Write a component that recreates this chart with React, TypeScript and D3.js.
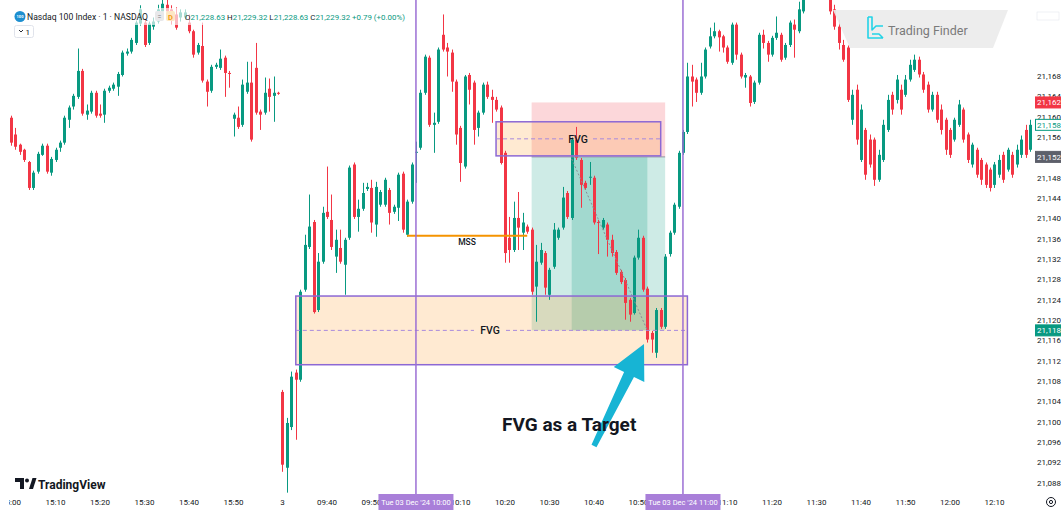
import React from 'react';
import * as d3 from 'd3';

// ---- Candle data (1-minute NASDAQ 100) ----
const opens = [
  21159.8, 21156.5, 21154.5, 21153.5, 21151.1, 21146.0, 21149.2, 21152.5, 21154.3, 21149.0,
  21151.5, 21153.9, 21154.9, 21159.4, 21162.0, 21163.9, 21169.0, 21160.4, 21161.0, 21164.7,
  21160.6, 21160.4, 21165.1, 21165.5, 21165.9, 21168.2, 21172.4, 21172.8, 21174.5, 21178.3,
  21178.5, 21174.5, 21177.7, 21178.7, 21180.7, 21182.0, 21181.1, 21180.1, 21179.5, 21179.5,
  21178.5, 21176.8, 21172.6, 21173.9, 21166.9, 21165.1, 21169.8, 21169.6, 21171.6, 21168.6,
  21159.6, 21159.8, 21158.4, 21164.9, 21166.7, 21169.6, 21161.0, 21160.8, 21165.5, 21164.1,
  21164.7,
  21105.9, 21091.0, 21099.0, 21109.7, 21108.3, 21126.0, 21134.4, 21139.3, 21122.0,
  21131.5, 21141.3, 21139.7, 21132.5, 21134.2, 21130.9, 21136.2, 21150.6, 21140.3, 21141.9,
  21145.8, 21146.0, 21138.8, 21142.7, 21142.7, 21145.6, 21141.3, 21142.1, 21148.8, 21136.8,
  21143.3, 21152.9, 21153.9, 21164.7, 21171.6, 21158.4, 21159.0, 21176.1, 21173.6, 21172.6,
  21166.9, 21157.8, 21150.2, 21168.2, 21166.7, 21157.8, 21160.8, 21166.3, 21163.9, 21163.3,
  21161.8, 21152.9, 21136.2, 21133.8, 21140.1, 21137.2, 21138.4, 21137.8, 21126.6, 21131.3,
  21133.2, 21125.0, 21130.5, 21136.2, 21138.2, 21145.0, 21140.1, 21155.5, 21151.5, 21147.0,
  21148.0, 21148.0, 21139.3, 21138.2, 21138.8, 21135.8, 21133.4, 21129.5, 21127.9, 21124.0,
  21121.4, 21132.3, 21136.2, 21126.2, 21117.5, 21113.6, 21122.0, 21118.7, 21133.0, 21137.2,
  21142.3, 21152.9, 21157.0, 21167.9, 21167.3, 21164.7, 21167.9, 21173.8, 21175.8, 21176.8,
  21175.8, 21173.6, 21170.6, 21178.1, 21172.2, 21167.7, 21167.9, 21162.9, 21166.7, 21176.1,
  21174.5, 21172.2, 21175.5, 21176.1, 21171.6, 21174.1, 21178.1, 21176.8, 21180.7, 21184.0,
  21185.4, 21184.0, 21186.6, 21185.0, 21183.4, 21181.1, 21177.7, 21174.1, 21173.6, 21159.4,
  21165.3, 21151.5, 21157.4, 21155.5, 21155.5, 21147.6, 21151.5, 21157.4, 21164.3, 21163.3,
  21165.3, 21164.3, 21167.3, 21169.2, 21171.2, 21168.3, 21166.3, 21161.4, 21164.3, 21161.4,
  21159.4, 21157.4, 21155.5, 21158.4, 21161.4, 21156.5, 21150.6, 21153.5, 21151.5, 21150.6,
  21149.6, 21146.6, 21148.6, 21152.5, 21149.6, 21152.5, 21150.6, 21152.5, 21157.4, 21153.5,
];
const highs = [
  21160.2, 21157.8, 21154.7, 21153.7, 21151.3, 21149.4, 21153.1, 21154.7, 21154.7, 21152.1,
  21153.9, 21155.3, 21160.2, 21162.2, 21164.5, 21173.4, 21169.4, 21162.4, 21165.1, 21165.1,
  21162.4, 21165.5, 21166.1, 21166.7, 21168.8, 21173.0, 21173.4, 21175.5, 21178.9, 21181.9,
  21179.1, 21178.7, 21179.5, 21182.0, 21183.0, 21183.4, 21181.9, 21181.5, 21181.1, 21181.1,
  21180.1, 21177.1, 21174.5, 21178.5, 21167.3, 21170.2, 21170.6, 21173.2, 21172.0, 21169.0,
  21160.8, 21162.0, 21167.3, 21170.8, 21170.8, 21174.5, 21161.4, 21167.7, 21167.5, 21167.9,
  21164.9,
  21106.3, 21100.8, 21109.9, 21110.3, 21126.0, 21136.8, 21144.7, 21139.7, 21133.2,
  21142.3, 21150.2, 21144.7, 21137.8, 21137.8, 21136.2, 21150.4, 21151.0, 21143.7, 21147.0,
  21147.0, 21147.6, 21147.2, 21145.6, 21148.0, 21146.0, 21142.7, 21149.0, 21149.2, 21143.7,
  21151.0, 21155.1, 21165.3, 21172.2, 21172.0, 21160.8, 21173.6, 21180.1, 21174.5, 21173.2,
  21167.3, 21158.2, 21168.2, 21168.6, 21167.1, 21161.2, 21166.7, 21166.9, 21165.3, 21163.9,
  21162.2, 21153.3, 21140.3, 21143.3, 21145.2, 21141.1, 21138.8, 21138.2, 21134.8, 21135.2,
  21133.6, 21130.3, 21139.1, 21138.2, 21146.2, 21145.4, 21155.9, 21158.0, 21151.9, 21147.4,
  21151.1, 21148.4, 21139.7, 21140.1, 21139.2, 21136.8, 21133.8, 21129.9, 21128.3, 21124.4,
  21132.7, 21137.8, 21136.6, 21126.6, 21117.9, 21122.4, 21122.4, 21133.0, 21137.6, 21143.1,
  21153.3, 21157.4, 21170.6, 21170.2, 21167.7, 21170.6, 21173.6, 21177.5, 21178.5, 21177.1,
  21176.1, 21174.0, 21178.5, 21178.5, 21172.6, 21168.6, 21168.2, 21167.1, 21176.5, 21177.1,
  21174.9, 21175.9, 21179.7, 21176.5, 21174.5, 21178.9, 21179.1, 21182.6, 21185.0, 21187.0,
  21187.0, 21187.4, 21187.8, 21186.0, 21184.0, 21182.0, 21179.1, 21175.1, 21174.0, 21165.3,
  21166.3, 21162.4, 21157.8, 21156.5, 21155.9, 21153.5, 21159.4, 21164.3, 21164.9, 21168.2,
  21166.3, 21168.2, 21171.2, 21172.2, 21171.8, 21168.8, 21166.9, 21164.9, 21164.9, 21162.4,
  21159.8, 21157.8, 21159.8, 21163.3, 21161.8, 21156.9, 21154.9, 21153.9, 21151.9, 21151.0,
  21150.0, 21151.1, 21152.5, 21153.1, 21153.9, 21153.1, 21154.5, 21156.3, 21158.4, 21159.4,
];
const lows = [
  21154.3, 21153.5, 21152.5, 21151.1, 21145.6, 21145.6, 21148.8, 21152.3, 21148.8, 21148.4,
  21151.1, 21153.1, 21154.5, 21157.8, 21161.4, 21163.5, 21160.2, 21159.4, 21160.6, 21159.8,
  21159.8, 21158.8, 21164.7, 21165.1, 21164.1, 21167.9, 21172.0, 21172.4, 21174.1, 21177.9,
  21173.7, 21174.1, 21177.1, 21178.3, 21180.3, 21179.1, 21178.1, 21177.1, 21178.7, 21179.1,
  21176.4, 21171.6, 21172.2, 21166.7, 21162.0, 21164.7, 21169.4, 21169.2, 21163.9, 21165.7,
  21156.1, 21157.6, 21158.0, 21164.5, 21155.1, 21160.4, 21157.4, 21160.4, 21161.0, 21159.0,
  21164.3,
  21090.2, 21086.1, 21098.4, 21096.5, 21107.9, 21125.6, 21134.0, 21121.3, 21121.6,
  21131.1, 21139.9, 21133.8, 21129.3, 21131.1, 21125.0, 21135.8, 21139.9, 21137.4, 21141.5,
  21145.4, 21137.2, 21136.4, 21142.3, 21142.3, 21138.8, 21140.9, 21139.5, 21137.2, 21136.4,
  21142.9, 21147.0, 21153.5, 21164.3, 21158.0, 21152.9, 21158.6, 21172.8, 21167.9, 21164.9,
  21154.5, 21147.2, 21149.8, 21162.4, 21154.5, 21156.1, 21160.4, 21163.5, 21158.8, 21161.0,
  21150.6, 21131.3, 21131.3, 21133.4, 21133.8, 21133.8, 21137.0, 21125.0, 21119.7, 21130.9,
  21125.0, 21124.0, 21130.1, 21135.8, 21137.8, 21139.9, 21139.7, 21151.5, 21142.1, 21145.6,
  21146.6, 21138.8, 21133.0, 21137.8, 21132.5, 21132.5, 21128.9, 21127.1, 21120.1, 21119.7,
  21121.1, 21131.9, 21125.6, 21115.6, 21113.6, 21112.6, 21118.3, 21118.3, 21132.5, 21136.8,
  21141.9, 21152.5, 21156.6, 21162.0, 21162.9, 21164.3, 21167.5, 21173.4, 21175.4, 21172.8,
  21172.6, 21170.4, 21170.2, 21171.2, 21167.5, 21165.7, 21162.0, 21162.5, 21166.3, 21173.4,
  21170.8, 21171.8, 21175.1, 21170.8, 21171.2, 21173.7, 21171.6, 21176.4, 21180.3, 21183.4,
  21183.0, 21183.4, 21183.8, 21183.0, 21180.1, 21177.1, 21173.2, 21170.8, 21162.9, 21158.4,
  21154.5, 21151.1, 21147.6, 21150.0, 21146.4, 21147.2, 21151.1, 21157.0, 21160.4, 21162.6,
  21160.4, 21163.9, 21166.9, 21168.8, 21167.7, 21164.7, 21160.8, 21161.0, 21158.8, 21156.5,
  21152.5, 21151.9, 21155.1, 21158.0, 21154.9, 21150.9, 21150.0, 21148.0, 21146.6, 21146.0,
  21145.3, 21146.0, 21148.0, 21147.0, 21149.2, 21148.0, 21150.0, 21151.9, 21151.9, 21153.1,
];
const closes = [
  21154.9, 21154.1, 21153.1, 21151.5, 21146.0, 21149.0, 21152.7, 21154.3, 21149.2, 21151.7,
  21153.5, 21154.9, 21159.8, 21161.8, 21164.1, 21169.0, 21160.6, 21161.2, 21164.7, 21160.2,
  21160.2, 21165.1, 21165.7, 21166.3, 21168.4, 21172.6, 21172.8, 21175.1, 21178.5, 21181.1,
  21174.1, 21178.3, 21178.7, 21181.1, 21182.2, 21180.7, 21179.5, 21177.5, 21180.5, 21180.5,
  21176.8, 21172.2, 21174.1, 21167.1, 21164.9, 21169.8, 21170.2, 21171.4, 21168.6, 21168.4,
  21160.4, 21158.0, 21166.3, 21166.7, 21155.5, 21160.8, 21160.4, 21164.7, 21163.9, 21164.7,
  21164.5,
  21091.6, 21099.8, 21108.9, 21108.3, 21125.6, 21134.8, 21138.4, 21121.6, 21131.5,
  21141.1, 21140.3, 21134.4, 21135.8, 21131.5, 21135.8, 21150.0, 21140.3, 21141.9, 21145.0,
  21146.2, 21139.2, 21146.2, 21145.2, 21147.6, 21141.1, 21142.3, 21148.6, 21137.8, 21143.3,
  21150.6, 21153.1, 21164.7, 21171.8, 21158.4, 21158.8, 21173.2, 21173.2, 21172.8, 21166.9,
  21156.5, 21150.9, 21167.9, 21165.3, 21157.4, 21160.8, 21166.3, 21163.9, 21163.3, 21161.4,
  21150.9, 21133.2, 21133.8, 21140.1, 21138.2, 21139.2, 21137.4, 21125.6, 21131.5, 21133.8,
  21126.4, 21129.9, 21137.8, 21137.8, 21144.1, 21140.3, 21155.5, 21151.9, 21146.6, 21146.0,
  21148.2, 21139.2, 21139.2, 21139.7, 21135.8, 21133.2, 21129.3, 21127.5, 21123.4, 21121.1,
  21132.3, 21136.2, 21126.0, 21116.2, 21116.2, 21122.0, 21118.7, 21132.5, 21137.2, 21142.7,
  21152.9, 21157.0, 21167.9, 21166.9, 21164.7, 21167.9, 21173.2, 21175.8, 21176.8, 21175.6,
  21173.6, 21170.8, 21178.1, 21172.2, 21167.9, 21168.2, 21162.7, 21166.7, 21176.1, 21174.5,
  21172.2, 21175.5, 21176.5, 21171.2, 21174.1, 21178.5, 21177.1, 21181.1, 21184.0, 21186.0,
  21184.0, 21186.6, 21184.6, 21183.4, 21180.7, 21177.7, 21174.5, 21171.2, 21163.3, 21164.3,
  21155.5, 21161.4, 21148.6, 21150.6, 21147.6, 21152.5, 21158.4, 21163.3, 21161.4, 21167.3,
  21161.4, 21167.3, 21170.2, 21171.2, 21168.3, 21165.3, 21161.4, 21164.3, 21159.4, 21157.4,
  21153.5, 21152.5, 21159.4, 21162.4, 21155.5, 21151.5, 21154.5, 21148.6, 21147.6, 21146.6,
  21146.0, 21150.6, 21151.5, 21147.6, 21153.5, 21148.6, 21153.5, 21155.5, 21152.5, 21158.4,
];

// ---- Axis ticks ----
const priceTicks = [21088, 21092, 21096, 21100, 21104, 21108, 21112, 21116, 21120, 21124,
  21128, 21132, 21136, 21140, 21144, 21148, 21152, 21156, 21160, 21164, 21168];
const timeTickIndex = [0, 10, 20, 30, 40, 50, 61, 71, 81, 101, 111, 121, 131, 141, 161, 171, 181, 191, 201, 211, 221];
const timeTickText = ['15:00', '15:10', '15:20', '15:30', '15:40', '15:50', '3', '09:40', '09:50', '10:10', '10:20',
  '10:30', '10:40', '10:50', '11:10', '11:20', '11:30', '11:40', '11:50', '12:00', '12:10'];

// ---- Drawings (candle index / price) ----
const markerIndex = [91, 151];
const markerText = ["Tue 03 Dec '24   10:00", "Tue 03 Dec '24   11:00"];
const fvgBig = [64, 152, 21124.75, 21111.25];
const fvgSmall = [109, 146, 21159.0, 21152.3];
const position = [117, 147, 21162.8, 21152.1, 21118.0]; // from, to, stop, entry, target
const positionFill = [126, 143];
const mss = [89, 116, 21136.6];
const priceBadges = [21162.8, 21158.4, 21152.1, 21118.0];
const headerLetters = ['O', 'H', 'L', 'C'];
const headerValues = ['21,228.63', '21,229.32', '21,228.63', '21,229.32'];

const W = 1061, H = 510;
const PANE_R = 1035, PANE_B = 494;
const GREEN = '#089981', RED = '#f23645';
const FONT = 'Roboto, "Noto Sans", sans-serif';

export default function App() {
  const x = d3.scaleLinear().domain([0, 229]).range([11, 11 + 229 * 4.45]);
  const y = d3.scaleLinear().domain([21168, 21088]).range([76, 483]);
  const fmt = d3.format(',.2f');

  const cx = (i: number) => Math.round(x(i));

  // arrow geometry
  const tip = [644, 344], tail = [594, 446];
  const dx = tip[0] - tail[0], dy = tip[1] - tail[1];
  const len = Math.hypot(dx, dy);
  const ux = dx / len, uy = dy / len, nx = -uy, ny = ux;
  const hb = [tip[0] - 34 * ux, tip[1] - 34 * uy];
  const sw = 5.5, hw = 17;
  const arrowPts = [
    [tail[0] + sw * 0.5 * nx, tail[1] + sw * 0.5 * ny],
    [hb[0] + sw * nx, hb[1] + sw * ny],
    [hb[0] + hw * nx, hb[1] + hw * ny],
    tip,
    [hb[0] - hw * nx, hb[1] - hw * ny],
    [hb[0] - sw * nx, hb[1] - sw * ny],
    [tail[0] - sw * 0.5 * nx, tail[1] - sw * 0.5 * ny],
  ].map(p => p.join(',')).join(' ');

  const bigX0 = x(fvgBig[0]), bigX1 = x(fvgBig[1]);
  const bigMid = y((fvgBig[2] + fvgBig[3]) / 2);
  const bigTextX = 490;
  const smX0 = x(fvgSmall[0]), smX1 = x(fvgSmall[1]);
  const smMid = y((fvgSmall[2] + fvgSmall[3]) / 2);
  const smTextX = 578;
  const pX0 = x(position[0]), pX1 = x(position[1]);
  const fX0 = x(positionFill[0]), fX1 = x(positionFill[1]);

  const badgeStyles = [
    { fill: RED, stroke: RED, text: '#fff' },
    { fill: '#fff', stroke: GREEN, text: GREEN },
    { fill: '#5d606b', stroke: '#5d606b', text: '#fff' },
    { fill: GREEN, stroke: GREEN, text: '#fff' },
  ];

  return (
    <svg width={W} height={H} style={{ position: 'absolute', left: 0, top: 0, background: '#fff' }} fontFamily={FONT}>
      <defs>
        <clipPath id="pane"><rect x={0} y={0} width={PANE_R} height={PANE_B} /></clipPath>
        <clipPath id="taxis"><rect x={9} y={PANE_B} width={PANE_R - 9} height={H - PANE_B} /></clipPath>
      </defs>
      <rect width={W} height={H} fill="#fff" />

      <g clipPath="url(#pane)">
        {/* position tool zones */}
        <rect x={pX0} y={y(position[2])} width={pX1 - pX0} height={y(position[3]) - y(position[2])} fill="rgba(242,54,69,0.2)" />
        <rect x={pX0} y={y(position[3])} width={pX1 - pX0} height={y(position[4]) - y(position[3])} fill="rgba(8,153,129,0.2)" />
        <rect x={fX0} y={y(position[3])} width={fX1 - fX0} height={y(position[4]) - y(position[3])} fill="rgba(8,153,129,0.22)" />
        {/* FVG fills */}
        <rect x={bigX0} y={y(fvgBig[2])} width={bigX1 - bigX0} height={y(fvgBig[3]) - y(fvgBig[2])} fill="rgba(255,160,50,0.22)" />
        <rect x={smX0} y={y(fvgSmall[2])} width={smX1 - smX0} height={y(fvgSmall[3]) - y(fvgSmall[2])} fill="rgba(255,160,50,0.22)" />

        {/* candles */}
        {opens.map((o, i) => {
          const c = closes[i];
          const col = c >= o ? GREEN : RED;
          const px = cx(i);
          const yt = y(Math.max(o, c));
          const yb = y(Math.min(o, c));
          return (
            <g key={i}>
              <line x1={px + 0.5} x2={px + 0.5} y1={y(highs[i])} y2={y(lows[i])} stroke={col} strokeWidth={1} />
              <rect x={px - 1} y={yt} width={3} height={Math.max(1, yb - yt)} fill={col} />
            </g>
          );
        })}

        {/* position tool entry line and path */}
        <line x1={pX0} x2={pX1} y1={y(position[3])} y2={y(position[3])} stroke="#9598a1" strokeWidth={1} />
        <line x1={fX0} y1={y(position[3]) + 2} x2={fX1} y2={y(position[4])} stroke="#8a8d96" strokeWidth={1} strokeDasharray="2,2" />

        {/* FVG borders */}
        <rect x={bigX0} y={y(fvgBig[2])} width={bigX1 - bigX0} height={y(fvgBig[3]) - y(fvgBig[2])} fill="none" stroke="#8c68d4" strokeWidth={1.5} />
        <line x1={bigX0} x2={bigTextX - 16} y1={bigMid} y2={bigMid} stroke="#a889dc" strokeDasharray="4,3" />
        <line x1={bigTextX + 16} x2={bigX1} y1={bigMid} y2={bigMid} stroke="#a889dc" strokeDasharray="4,3" />
        <text x={bigTextX} y={bigMid} dy="0.36em" textAnchor="middle" fontSize={10.5} fill="#131722" fontWeight={500}>FVG</text>

        <rect x={smX0} y={y(fvgSmall[2])} width={smX1 - smX0} height={y(fvgSmall[3]) - y(fvgSmall[2])} fill="none" stroke="#8c68d4" strokeWidth={1.5} />
        <line x1={smX0} x2={smTextX - 15} y1={smMid} y2={smMid} stroke="#a889dc" strokeDasharray="4,3" />
        <line x1={smTextX + 15} x2={smX1} y1={smMid} y2={smMid} stroke="#a889dc" strokeDasharray="4,3" />
        <text x={smTextX} y={smMid} dy="0.36em" textAnchor="middle" fontSize={10.5} fill="#131722" fontWeight={500}>FVG</text>

        {/* MSS */}
        <line x1={x(mss[0])} x2={x(mss[1])} y1={y(mss[2])} y2={y(mss[2])} stroke="#f59300" strokeWidth={2} />
        <text x={467} y={y(mss[2]) + 9} textAnchor="middle" fontSize={8.5} fontWeight={500} fill="#131722">MSS</text>

        {/* vertical markers */}
        {markerIndex.map((m, k) => (
          <line key={k} x1={x(m)} x2={x(m)} y1={0} y2={PANE_B} stroke="#9b6fd4" strokeWidth={1.5} />
        ))}

        {/* arrow + caption */}
        <polygon points={arrowPts} fill="#17b4d4" strokeLinejoin="round" />
        <text x={502} y={431} fontSize={19} fontWeight={700} fill="#131722">FVG as a Target</text>

        {/* header */}
        <rect x={10} y={8} width={370} height={17} fill="#fff" opacity={0.65} />
        <circle cx={20} cy={16.5} r={5.5} fill="#1d8fd0" />
        <text x={20} y={18} textAnchor="middle" fontSize={4} fill="#fff" fontWeight={700}>100</text>
        <text x={27} y={20} fontSize={8.6} fill="#131722">Nasdaq 100 Index · 1 · NASDAQ</text>
        <rect x={155} y={11} width={9} height={10} rx={2} fill="#e8e8ea" />
        <text x={159.5} y={19} textAnchor="middle" fontSize={7} fill="#787b86">=</text>
        <rect x={166} y={11} width={9} height={10} rx={2} fill="#fde7c4" />
        <text x={170.5} y={19.5} textAnchor="middle" fontSize={7.5} fill="#f39b12" fontWeight={700}>D</text>
        <text x={185} y={20} fontSize={7.9}>
          {headerLetters.map((l, k) => (
            <React.Fragment key={l}>
              <tspan fill="#131722">{(k > 0 ? ' ' : '') + l}</tspan>
              <tspan fill={GREEN}>{headerValues[k]}</tspan>
            </React.Fragment>
          ))}
          <tspan fill={GREEN}> +0.79 (+0.00%)</tspan>
        </text>
        <rect x={14.5} y={25.5} width={19} height={12} rx={2} fill="#fff" stroke="#e0e3eb" />
        <path d="M19,30 l2,2 l2,-2" fill="none" stroke="#131722" strokeWidth={0.9} />
        <text x={25.5} y={35} fontSize={8} fill="#131722">1</text>

        {/* Trading Finder badge */}
        <path d="M833,10 L1008,10 L993,48 L850,48 Z" fill="#ebebeb" opacity={0.92} />
        <g fill="none" stroke="#22d3e6" strokeWidth={1.6} strokeLinejoin="round">
          <path d="M868,17 L872,17 L872,30 L876,26 L883,26 M872,34 L879,34 L883,38 M868,17 L868,38 L883,38" />
        </g>
        <text x={888} y={35} fontSize={12.5} fill="#7a7a7a">Trading Finder</text>

        {/* TradingView watermark */}
        <path d="M15,478 h9 v11 h-4 v-7 h-5 z" fill="#131722" />
        <circle cx={27} cy={480.5} r={2} fill="#131722" />
        <path d="M29,489 l3.5,-11 h4 l-3.5,11 z" fill="#131722" />
        <text x={38} y={489} fontSize={12} fontWeight={700} fill="#131722">TradingView</text>
      </g>

      {/* price axis */}
      <g fontSize={8} fill="#131722">
        {priceTicks.map(p => (
          <text key={p} x={1037} y={y(p)} dy="0.35em">{fmt(p)}</text>
        ))}
      </g>
      {priceBadges.map((p, k) => (
        <g key={k}>
          <rect x={1035.5} y={y(p) - 5.5} width={30} height={11} fill={badgeStyles[k].fill} stroke={badgeStyles[k].stroke} />
          <text x={1037} y={y(p)} dy="0.35em" fontSize={8} fill={badgeStyles[k].text}>{fmt(p)}</text>
        </g>
      ))}
      <rect x={1037} y={12} width={22} height={8} fill="#fff" stroke="#e0e3eb" strokeWidth={0.5} />

      {/* time axis */}
      <g clipPath="url(#taxis)" fontSize={8} fill="#131722">
        {timeTickIndex.map((ti, k) => (
          <text key={k} x={x(ti)} y={502} dy="0.35em" textAnchor="middle">{timeTickText[k]}</text>
        ))}
      </g>
      {markerIndex.map((m, k) => (
        <g key={k}>
          <rect x={x(m) - 37.5} y={PANE_B} width={75} height={16} fill="#a97fd9" />
          <text x={x(m)} y={502} dy="0.35em" textAnchor="middle" fontSize={7.5} fill="#fff">{markerText[k]}</text>
        </g>
      ))}
      <circle cx={1051} cy={502} r={4.5} fill="none" stroke="#131722" strokeWidth={1} />
      <circle cx={1051} cy={502} r={1.6} fill="none" stroke="#131722" strokeWidth={1} />
    </svg>
  );
}
